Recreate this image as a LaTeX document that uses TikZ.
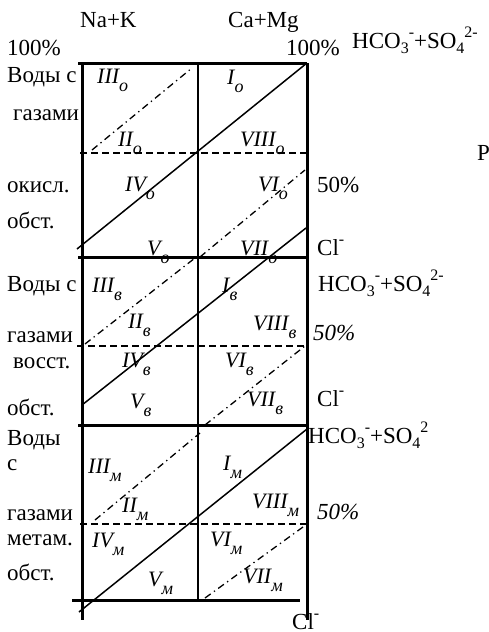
\documentclass[tikz,border=0pt]{standalone}
\usepackage{fontspec}
\setmainfont{Liberation Serif}
\newcommand{\chs}[1]{\raisebox{-0.25em}{\fontsize{16}{16}\selectfont #1}}
\newcommand{\chp}[1]{\raisebox{0.45em}{\fontsize{16}{16}\selectfont #1}}
\newcommand{\rsub}[1]{\raisebox{-0.4em}{\fontsize{18}{18}\selectfont\itshape #1}}
\begin{document}
\begin{tikzpicture}[x=1pt,y=-1pt,
  txt/.style={anchor=base west,inner sep=0pt,font=\fontsize{23}{25}\selectfont},
  reg/.style={anchor=base west,inner sep=0pt,font=\fontsize{22}{24}\selectfont\itshape},
  heavy/.style={line width=3pt},
  thin/.style={line width=1.5pt},
  dsh/.style={line width=1.3pt,dash pattern=on 7pt off 4pt},
  dd/.style={line width=1.3pt,dash pattern=on 7pt off 4pt on 1.3pt off 4pt}]
\useasboundingbox (0,0) rectangle (488,632);
% grid coordinates
\coordinate (tl) at (78,63);   \coordinate (tr) at (307,63);
\coordinate (b1l) at (78,257); \coordinate (b1r) at (307,257);
\coordinate (b2l) at (78,425); \coordinate (b2r) at (307,425);
\coordinate (b3l) at (72,600); \coordinate (b3r) at (300,600);
\coordinate (lt) at (82,63);   \coordinate (lb) at (82,620);
\coordinate (rt) at (307,63);  \coordinate (rb) at (307,620);
\coordinate (mt) at (198,63);  \coordinate (mb) at (198,600);
% frame
\draw[heavy] (tl) -- (tr);
\draw[heavy] (b1l) -- (b1r);
\draw[heavy] (b2l) -- (b2r);
\draw[heavy] (b3l) -- (b3r);
\draw[heavy] (lt) -- (lb);
\draw[heavy] (rt) -- (rb);
\draw[thin] (mt) -- (mb);
% dashed 50% lines
\coordinate (d1l) at (80,153);  \coordinate (d1r) at (307,153);
\coordinate (d2l) at (77,346);  \coordinate (d2r) at (307,346);
\coordinate (d3l) at (80,524);  \coordinate (d3r) at (307,524);
\draw[dsh] (d1l) -- (d1r);
\draw[dsh] (d2l) -- (d2r);
\draw[dsh] (d3l) -- (d3r);
% solid diagonals
\coordinate (s1a) at (77,249);  \coordinate (s1b) at (307,63);
\coordinate (s2a) at (82,405);  \coordinate (s2b) at (306,228);
\coordinate (s3a) at (79,612);  \coordinate (s3b) at (307,429);
\draw[thin] (s1a) -- (s1b);
\draw[thin] (s2a) -- (s2b);
\draw[thin] (s3a) -- (s3b);
% dash-dot diagonals
\coordinate (p1a) at (92,150);  \coordinate (p1b) at (192,68);
\coordinate (q1a) at (200,257); \coordinate (q1b) at (305,170);
\coordinate (p2a) at (85,344);  \coordinate (p2b) at (195,258);
\coordinate (q2a) at (205,425); \coordinate (q2b) at (305,346);
\coordinate (p3a) at (95,520);  \coordinate (p3b) at (200,433);
\coordinate (q3a) at (205,598); \coordinate (q3b) at (303,527);
\draw[dd] (p1a) -- (p1b);
\draw[dd] (q1a) -- (q1b);
\draw[dd] (p2a) -- (p2b);
\draw[dd] (q2a) -- (q2b);
\draw[dd] (p3a) -- (p3b);
\draw[dd] (q3a) -- (q3b);
% top labels
\node[txt] (nak) at (80,27) {Na+K};
\node[txt] (camg) at (228,27) {Ca+Mg};
\node[txt] (p100l) at (7,55) {100\%};
\node[txt] (p100r) at (286,55) {100\%};
\node[txt] (hco1) at (352,48) {HCO\chs{3}\chp{-}+SO\chs{4}\chp{2-}};
\node[txt] (ris) at (477,160) {Р};
% left labels
\node[txt] (l1) at (7,82) {Воды с};
\node[txt] (l2) at (13,120) {газами};
\node[txt] (l3) at (7,192) {окисл.};
\node[txt] (l4) at (7,228) {обст.};
\node[txt] (l5) at (7,291) {Воды с};
\node[txt] (l6) at (7,342) {газами};
\node[txt] (l7) at (13,368) {восст.};
\node[txt] (l8) at (7,415) {обст.};
\node[txt] (l9) at (7,445) {Воды};
\node[txt] (l10) at (7,470) {с};
\node[txt] (l11) at (7,520) {газами};
\node[txt] (l12) at (7,545) {метам.};
\node[txt] (l13) at (7,580) {обст.};
% right labels
\node[txt] (r1) at (317,192) {50\%};
\node[txt] (r2) at (317,255) {Cl\chp{-}};
\node[txt] (r3) at (318,291) {HCO\chs{3}\chp{-}+SO\chs{4}\chp{2-}};
\node[txt,font=\fontsize{23}{25}\selectfont\itshape] (r4) at (313,340) {50\%};
\node[txt] (r5) at (317,406) {Cl\chp{-}};
\node[txt] (r6) at (308,443) {HCO\chs{3}\chp{-}+SO\chs{4}\chp{2}};
\node[txt,font=\fontsize{23}{25}\selectfont\itshape] (r7) at (317,519) {50\%};
\node[txt] (r8) at (292,629) {Cl\chp{-}};
% regions, block o
\node[reg] (o3) at (97,83) {III\rsub{о}};
\node[reg] (o1) at (227,84) {I\rsub{о}};
\node[reg] (o2) at (118,146) {II\rsub{о}};
\node[reg] (o8) at (240,146) {VIII\rsub{о}};
\node[reg] (o4) at (125,191) {IV\rsub{о}};
\node[reg] (o6) at (258,191) {VI\rsub{о}};
\node[reg] (o5) at (147,255) {V\rsub{о}};
\node[reg] (o7) at (240,255) {VII\rsub{о}};
% regions, block v
\node[reg] (v3) at (92,292) {III\rsub{в}};
\node[reg] (v1) at (222,292) {I\rsub{в}};
\node[reg] (v2) at (128,328) {II\rsub{в}};
\node[reg] (v8) at (253,330) {VIII\rsub{в}};
\node[reg] (v4) at (122,367) {IV\rsub{в}};
\node[reg] (v6) at (225,367) {VI\rsub{в}};
\node[reg] (v5) at (130,408) {V\rsub{в}};
\node[reg] (v7) at (247,406) {VII\rsub{в}};
% regions, block m
\node[reg] (m3) at (88,473) {III\rsub{м}};
\node[reg] (m1) at (223,470) {I\rsub{м}};
\node[reg] (m2) at (122,512) {II\rsub{м}};
\node[reg] (m8) at (252,508) {VIII\rsub{м}};
\node[reg] (m4) at (92,547) {IV\rsub{м}};
\node[reg] (m6) at (210,546) {VI\rsub{м}};
\node[reg] (m5) at (148,586) {V\rsub{м}};
\node[reg] (m7) at (243,583) {VII\rsub{м}};
\end{tikzpicture}
\end{document}
